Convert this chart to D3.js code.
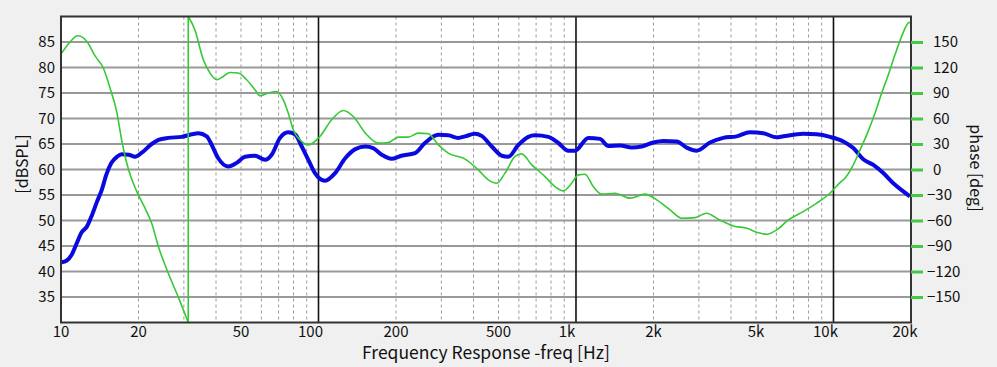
<!DOCTYPE html>
<html>
<head>
<meta charset="utf-8">
<script src="https://cdn.jsdelivr.net/npm/d3@7"></script>
<style>
  html, body { margin: 0; padding: 0; background: #f0f0f0; }
  svg { display: block; }
  text { font-family: "Noto Sans CJK JP", "Noto Sans", sans-serif; fill: #111; }
</style>
</head>
<body>
<svg id="chart" width="997" height="367"></svg>
<script>
// ---- data ----
const splFreq = [10.06,10.5,11.0,11.5,12.0,12.6,13.2,13.8,14.4,15.0,15.7,16.5,17.2,18.3,19.4,20.6,22.5,23.9,26.1,29.4,32.2,34.1,36.8,38.5,40.8,44.6,48.1,51.8,56.7,62.0,65.8,70.9,76.3,81.0,86.1,91.3,96.9,106,116,127,139,152,163,176,192,210,237,259,292,319,349,371,405,430,471,515,546,597,653,693,781,854,934,991,1117,1240,1335,1483,1646,1799,1996,2183,2461,2691,2943,3314,3733,4209,4740,5340,6018,6386,7632,8607,9692,10920,11940,13050,14280,15610,17070,18670,19800];
const splDb = [41.8,42.1,43.3,45.5,47.6,48.8,51.1,53.7,56.0,59.0,61.3,62.5,63.0,62.9,62.5,63.3,65.0,65.8,66.2,66.4,66.9,67.1,66.5,64.8,62.2,60.6,61.3,62.5,62.7,61.9,62.9,66.2,67.3,66.9,64.5,61.9,59.3,57.8,59.3,62.2,64.0,64.5,64.2,62.9,62.1,62.7,63.2,65.2,66.8,66.7,66.2,66.5,67.0,66.6,64.5,62.7,62.5,64.8,66.4,66.7,66.4,65.2,63.7,63.7,66.2,66.0,64.6,64.7,64.3,64.5,65.3,65.6,65.5,64.3,63.7,65.3,66.2,66.5,67.3,67.1,66.3,66.5,67.0,66.9,66.4,65.5,64.2,62.0,60.9,59.3,57.3,55.7,54.7];

// phase, low part (before the wrap at ~31 Hz) and high part (after it)
const phaseFreqA = [10.06,10.8,11.6,12.6,13.6,14.6,15.5,16.5,17.2,18.3,19.7,21.2,22.5,23.9,26.1,28.5,31.2];
const phaseDegA  = [137,149.5,157.4,150.7,133,119.4,95.8,66.4,34.9,-0.4,-26,-45.5,-63.2,-90.8,-122.1,-149.6,-180];
const phaseFreqB = [31.2,33.1,35.7,37.9,40.2,42.7,45.3,48.8,52.6,56.7,59.3,63.8,68.8,73.0,76.3,79.8,86.1,91.3,101.3,112.5,124.8,136.5,152,170.7,186.7,204.1,223.2,244.1,266.9,292,319,371,417.5,456.5,492,530,580,615,673,758,829,893,962,1021,1084,1167,1259,1418,1621,1853,2058,2318,2574,2898,3218,3570,4082,4601,5105,5503,6018,6676,7632,8607,9692,10600,11080,11940,12680,13460,14500,15390,16330,17330,18400,19520,19800];
const phaseDegB  = [180,164.5,129.1,113.5,105.6,109.5,114.2,113.5,105.6,93.8,86.7,89.9,91.8,82,66.4,46.7,32.9,29,38.8,58.5,69.4,62.4,42.8,31,31.7,38.1,38.1,42.8,42,29,19.3,12.2,-0.4,-12.2,-16.1,-4.3,15.3,18.4,5.5,-8.3,-20.1,-25.1,-16.1,-6.3,-5.5,-20.1,-29,-27.9,-33.7,-29,-35.7,-47.5,-57.3,-56.6,-51.4,-58.5,-66.4,-69.1,-74.3,-76.1,-71.1,-59.3,-49.5,-39.6,-27.9,-15.4,-10.2,5.5,23.1,40.8,66.4,89.9,111.5,135,156.6,172.4,173.1];

const dbTicks = [35,40,45,50,55,60,65,70,75,80,85];
const phaseTicks = [150,120,90,60,30,0,-30,-60,-90,-120,-150];
const freqTicks = [10,20,50,100,200,500,1000,2000,5000,10000,20000];
const freqTickLabels = ["10","20","50","100","200","500","1k","2k","5k","10k","20k"];
const majorFreqLines = [100,1000,10000];
const minorFreqLines = [20,30,40,50,60,70,80,90,200,300,400,500,600,700,800,900,2000,3000,4000,5000,6000,7000,8000,9000];

// ---- layout ----
const L = 61, R = 911, T = 16.5, B = 322.5;
const svg = d3.select("#chart");
const x = d3.scaleLog().domain([10, 20000]).range([L, R]);
const y = d3.scaleLinear().domain([30, 90]).range([B, T]);
const yp = d3.scaleLinear().domain([-180, 180]).range([B, T]);

svg.append("rect").attr("x", L).attr("y", T).attr("width", R - L).attr("height", B - T).attr("fill", "#fff");

svg.append("clipPath").attr("id", "clip").append("rect")
  .attr("x", L).attr("y", T).attr("width", R - L).attr("height", B - T);

// horizontal grid
svg.append("g").selectAll("line").data(dbTicks).join("line")
  .attr("x1", L).attr("x2", R).attr("y1", d => y(d)).attr("y2", d => y(d))
  .attr("stroke", "#999").attr("stroke-width", 2);

// minor vertical
svg.append("g").selectAll("line").data(minorFreqLines).join("line")
  .attr("x1", d => x(d)).attr("x2", d => x(d)).attr("y1", T).attr("y2", B)
  .attr("stroke", "#9a9a9a").attr("stroke-width", 1).attr("stroke-dasharray", "3,3");

// major vertical
svg.append("g").selectAll("line").data(majorFreqLines).join("line")
  .attr("x1", d => x(d)).attr("x2", d => x(d)).attr("y1", T).attr("y2", B)
  .attr("stroke", "#111").attr("stroke-width", 1.6);

const plot = svg.append("g").attr("clip-path", "url(#clip)");

// magnitude
const splLine = d3.line().x(d => x(d[0])).y(d => y(d[1])).curve(d3.curveMonotoneX);
plot.append("path").datum(d3.zip(splFreq, splDb)).attr("d", splLine)
  .attr("fill", "none").attr("stroke", "#0a0ae0").attr("stroke-width", 4).attr("stroke-linejoin", "round");

// phase
const phLine = d3.line().x(d => x(d[0])).y(d => yp(d[1])).curve(d3.curveMonotoneX);
const gc = "#35c935";
plot.append("path").datum(d3.zip(phaseFreqA, phaseDegA)).attr("d", phLine)
  .attr("fill", "none").attr("stroke", gc).attr("stroke-width", 1.6);
plot.append("path").datum(d3.zip(phaseFreqB, phaseDegB)).attr("d", phLine)
  .attr("fill", "none").attr("stroke", gc).attr("stroke-width", 1.6);
plot.append("line")
  .attr("x1", x(phaseFreqA[phaseFreqA.length - 1])).attr("x2", x(phaseFreqB[0]))
  .attr("y1", yp(phaseDegA[phaseDegA.length - 1])).attr("y2", yp(phaseDegB[0]))
  .attr("stroke", gc).attr("stroke-width", 1.6);

// border
svg.append("rect").attr("x", L).attr("y", T).attr("width", R - L).attr("height", B - T)
  .attr("fill", "none").attr("stroke", "#333").attr("stroke-width", 2);

// left axis labels
svg.append("g").selectAll("text").data(dbTicks).join("text")
  .attr("x", 55).attr("y", d => y(d)).attr("dy", "0.36em").attr("text-anchor", "end")
  .attr("font-size", 15).text(d => d);

// right axis
const ra = d3.axisRight(yp).tickValues(phaseTicks).tickSize(12).tickPadding(6)
  .tickFormat(d => d < 0 ? "\u2212" + Math.abs(d) : String(d));
const rg = svg.append("g").attr("transform", `translate(${R},0)`).call(ra);
rg.select(".domain").remove();
rg.selectAll(".tick line").attr("stroke", "#44c944").attr("stroke-width", 3);
rg.selectAll(".tick text").attr("font-size", 15).attr("fill", "#111")
  .attr("font-family", "'Noto Sans CJK JP', 'Noto Sans', sans-serif")
  .attr("x", d => d < 0 ? 16 : 22);

// bottom labels
const labelShift = {100: -8, 1000: -9, 10000: -8, 20000: -6};
svg.append("g").selectAll("text").data(freqTicks).join("text")
  .attr("x", d => x(d) + (labelShift[d] || 0)).attr("y", 336.5).attr("text-anchor", "middle")
  .attr("font-size", 15).text((d, i) => freqTickLabels[i]);

// axis titles
svg.append("text").attr("x", 486).attr("y", 359).attr("text-anchor", "middle")
  .attr("font-size", 17.5).text("Frequency Response -freq [Hz]");
svg.append("text").attr("transform", "translate(28,164) rotate(-90)").attr("text-anchor", "middle")
  .attr("font-size", 16).text("[dBSPL]");
svg.append("text").attr("transform", "translate(970,168) rotate(90)").attr("text-anchor", "middle")
  .attr("font-size", 16).text("phase [deg]");
</script>
</body>
</html>
